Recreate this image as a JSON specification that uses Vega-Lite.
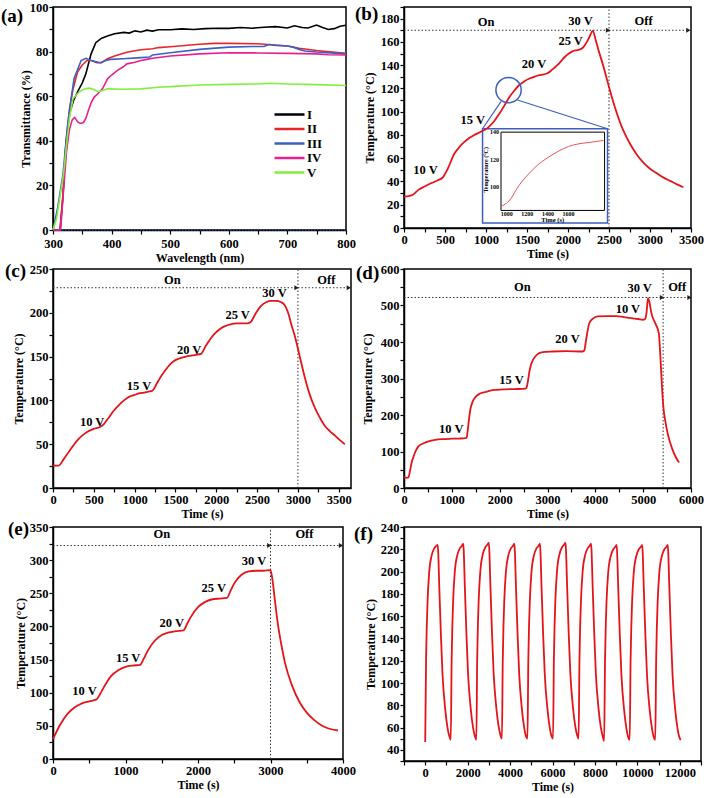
{
"$schema": "https://vega.github.io/schema/vega-lite/v6.json",
"background": "white",
"padding": {"left": 0, "top": 0, "right": 0, "bottom": 0},
"bounds": "flush",
"columns": 2,
"spacing": {"row": 39, "column": 53},
"datasets": {
"a": [
{"s":"I","x":300,"y":0},{"s":"I","x":312,"y":0},{"s":"I","x":317,"y":15},{"s":"I","x":322,"y":38},{"s":"I","x":328,"y":52},{"s":"I","x":335,"y":58},{"s":"I","x":342,"y":62},{"s":"I","x":350,"y":66},{"s":"I","x":356,"y":70},{"s":"I","x":365,"y":79},{"s":"I","x":373,"y":84},{"s":"I","x":383,"y":86},{"s":"I","x":393,"y":87},{"s":"I","x":405,"y":88},{"s":"I","x":421,"y":88.6},{"s":"I","x":430,"y":88.3},{"s":"I","x":440,"y":89.3},{"s":"I","x":450,"y":88.8},{"s":"I","x":460,"y":89.6},{"s":"I","x":470,"y":89.2},{"s":"I","x":480,"y":89.8},{"s":"I","x":500,"y":89.8},{"s":"I","x":520,"y":90.2},{"s":"I","x":540,"y":89.9},{"s":"I","x":560,"y":90.3},{"s":"I","x":580,"y":90.5},{"s":"I","x":600,"y":90.4},{"s":"I","x":620,"y":90.8},{"s":"I","x":640,"y":90.5},{"s":"I","x":660,"y":90.9},{"s":"I","x":680,"y":91.2},{"s":"I","x":700,"y":90.6},{"s":"I","x":712,"y":91.6},{"s":"I","x":725,"y":90.8},{"s":"I","x":735,"y":90.6},{"s":"I","x":750,"y":91.9},{"s":"I","x":760,"y":90.8},{"s":"I","x":770,"y":89.9},{"s":"I","x":780,"y":90.3},{"s":"I","x":790,"y":91.4},{"s":"I","x":800,"y":91.8},
{"s":"II","x":300,"y":0},{"s":"II","x":312,"y":0},{"s":"II","x":317,"y":16},{"s":"II","x":322,"y":39},{"s":"II","x":328,"y":54},{"s":"II","x":334,"y":63},{"s":"II","x":342,"y":71},{"s":"II","x":350,"y":74},{"s":"II","x":358,"y":76},{"s":"II","x":366,"y":76},{"s":"II","x":375,"y":75},{"s":"II","x":383,"y":75},{"s":"II","x":393,"y":76.8},{"s":"II","x":405,"y":78},{"s":"II","x":426,"y":79.7},{"s":"II","x":450,"y":80.8},{"s":"II","x":470,"y":81.3},{"s":"II","x":480,"y":81.8},{"s":"II","x":500,"y":82.2},{"s":"II","x":550,"y":83.3},{"s":"II","x":575,"y":83.7},{"s":"II","x":600,"y":83.7},{"s":"II","x":650,"y":83.5},{"s":"II","x":700,"y":82.5},{"s":"II","x":720,"y":81.5},{"s":"II","x":750,"y":80.5},{"s":"II","x":800,"y":79.2},
{"s":"III","x":300,"y":0},{"s":"III","x":308,"y":10},{"s":"III","x":317,"y":25},{"s":"III","x":325,"y":47},{"s":"III","x":331,"y":59},{"s":"III","x":336,"y":68},{"s":"III","x":342,"y":72},{"s":"III","x":348,"y":76},{"s":"III","x":356,"y":77},{"s":"III","x":365,"y":76},{"s":"III","x":372,"y":75.5},{"s":"III","x":381,"y":75},{"s":"III","x":390,"y":76},{"s":"III","x":398,"y":76.5},{"s":"III","x":420,"y":76.8},{"s":"III","x":450,"y":77.3},{"s":"III","x":465,"y":77.6},{"s":"III","x":470,"y":78.5},{"s":"III","x":500,"y":79.5},{"s":"III","x":550,"y":81},{"s":"III","x":600,"y":82},{"s":"III","x":640,"y":82.3},{"s":"III","x":660,"y":82.3},{"s":"III","x":665,"y":82.8},{"s":"III","x":670,"y":83.2},{"s":"III","x":680,"y":82.8},{"s":"III","x":700,"y":82.5},{"s":"III","x":710,"y":82},{"s":"III","x":720,"y":81},{"s":"III","x":730,"y":80.3},{"s":"III","x":750,"y":79.8},{"s":"III","x":780,"y":79.3},{"s":"III","x":800,"y":79},
{"s":"IV","x":300,"y":0},{"s":"IV","x":313,"y":0},{"s":"IV","x":318,"y":18},{"s":"IV","x":323,"y":35},{"s":"IV","x":328,"y":45},{"s":"IV","x":333,"y":49.5},{"s":"IV","x":337,"y":50.5},{"s":"IV","x":342,"y":48.5},{"s":"IV","x":347,"y":47.8},{"s":"IV","x":352,"y":48.2},{"s":"IV","x":356,"y":50},{"s":"IV","x":361,"y":54},{"s":"IV","x":365,"y":57},{"s":"IV","x":370,"y":59.5},{"s":"IV","x":376,"y":61},{"s":"IV","x":385,"y":63.5},{"s":"IV","x":393,"y":67.8},{"s":"IV","x":400,"y":69.5},{"s":"IV","x":410,"y":71.6},{"s":"IV","x":420,"y":73.2},{"s":"IV","x":426,"y":74.5},{"s":"IV","x":440,"y":75.2},{"s":"IV","x":450,"y":76},{"s":"IV","x":460,"y":76.5},{"s":"IV","x":470,"y":77},{"s":"IV","x":500,"y":78},{"s":"IV","x":550,"y":79},{"s":"IV","x":600,"y":79.5},{"s":"IV","x":650,"y":79.4},{"s":"IV","x":700,"y":79.2},{"s":"IV","x":750,"y":79},{"s":"IV","x":770,"y":78.6},{"s":"IV","x":800,"y":78.5},
{"s":"V","x":300,"y":0},{"s":"V","x":306,"y":5},{"s":"V","x":312,"y":15},{"s":"V","x":318,"y":25},{"s":"V","x":323,"y":38},{"s":"V","x":328,"y":50},{"s":"V","x":334,"y":58.7},{"s":"V","x":341,"y":61},{"s":"V","x":348,"y":62.5},{"s":"V","x":355,"y":63.3},{"s":"V","x":362,"y":63.6},{"s":"V","x":370,"y":63},{"s":"V","x":376,"y":62},{"s":"V","x":385,"y":62.6},{"s":"V","x":393,"y":63.3},{"s":"V","x":420,"y":63.1},{"s":"V","x":450,"y":63.3},{"s":"V","x":480,"y":64},{"s":"V","x":500,"y":64.3},{"s":"V","x":550,"y":65},{"s":"V","x":600,"y":65.3},{"s":"V","x":650,"y":65.5},{"s":"V","x":670,"y":65.8},{"s":"V","x":700,"y":65.5},{"s":"V","x":750,"y":65.2},{"s":"V","x":800,"y":64.8}
],
"a_zero": [{"x":300,"x2":800,"y":0}],
"b_main": [{"x":0,"y":27},{"x":60,"y":27.5},{"x":109,"y":28.6},{"x":180,"y":33},{"x":251,"y":35.7},{"x":330,"y":38.5},{"x":413,"y":41},{"x":474,"y":43.5},{"x":534,"y":51},{"x":615,"y":64},{"x":680,"y":70},{"x":737,"y":74},{"x":800,"y":77.5},{"x":858,"y":80},{"x":930,"y":82.5},{"x":1000,"y":85},{"x":1050,"y":88},{"x":1101,"y":92},{"x":1160,"y":98},{"x":1222,"y":105},{"x":1280,"y":112},{"x":1344,"y":118},{"x":1400,"y":122.5},{"x":1465,"y":126},{"x":1530,"y":128.5},{"x":1586,"y":130},{"x":1660,"y":131.5},{"x":1748,"y":133},{"x":1790,"y":135},{"x":1829,"y":137.5},{"x":1870,"y":140},{"x":1910,"y":143},{"x":1960,"y":147},{"x":2011,"y":150},{"x":2060,"y":152},{"x":2113,"y":153},{"x":2160,"y":154},{"x":2193,"y":156},{"x":2230,"y":160},{"x":2260,"y":164},{"x":2303,"y":169.5},{"x":2340,"y":161},{"x":2376,"y":152},{"x":2440,"y":137},{"x":2501,"y":121},{"x":2558,"y":107},{"x":2639,"y":90},{"x":2700,"y":80},{"x":2760,"y":72},{"x":2840,"y":63},{"x":2922,"y":56},{"x":3000,"y":51},{"x":3084,"y":47},{"x":3160,"y":43.5},{"x":3246,"y":40.5},{"x":3330,"y":37.5},{"x":3407,"y":35}],
"b_text": [{"x":1000,"y":177,"t":"On"},{"x":2153,"y":178,"t":"30 V"},{"x":2922,"y":178,"t":"Off"},{"x":2032,"y":161,"t":"25 V"},{"x":1586,"y":141,"t":"20 V"},{"x":838,"y":93,"t":"15 V"},{"x":263,"y":50,"t":"10 V"}],
"b_h": [{"x":0,"x2":2500,"y":170},{"x":2500,"x2":3480,"y":170}],
"b_v": [{"x":2500,"y":0,"y2":190}],
"b_arrow": [{"x":2488,"y":170},{"x":3468,"y":170}],
"b_box": [{"x":958,"x2":2482,"y":4.3,"y2":85.3}],
"b_inner": [{"x":1183,"x2":2446,"y":15.1,"y2":82.4}],
"b_inset": [{"x":1189,"y":18.6},{"x":1309,"y":25.7},{"x":1378,"y":34.0},{"x":1511,"y":45.8},{"x":1629,"y":54.1},{"x":1755,"y":60.6},{"x":1880,"y":65.9},{"x":2006,"y":70.1},{"x":2132,"y":72.4},{"x":2257,"y":73.5},{"x":2433,"y":75.3}],
"b_link": [{"x":1182,"y":108.6,"x2":958,"y2":85.3},{"x":1384,"y":110,"x2":2482,"y2":85.3}],
"b_circle": [{"x":1275,"y":118.6}],
"b_iy": [{"x":1183,"y":35.2,"t":"100"},{"x":1183,"y":58.8,"t":"120"},{"x":1183,"y":82.4,"t":"140"}],
"b_ix": [{"x":1252,"y":15.1,"t":"1000"},{"x":1503,"y":15.1,"t":"1200"},{"x":1755,"y":15.1,"t":"1400"},{"x":2006,"y":15.1,"t":"1600"}],
"b_ixt": [{"x":1814,"y":7,"t":"Time (s)"}],
"b_iyt": [{"x":1000,"y":50,"t":"Temperature (°C)"}],
"c_main": [{"x":0,"y":25.6},{"x":70,"y":25.6},{"x":131,"y":33},{"x":200,"y":42},{"x":295,"y":54},{"x":360,"y":60},{"x":418,"y":64},{"x":500,"y":67.5},{"x":582,"y":70},{"x":623,"y":73},{"x":680,"y":80},{"x":746,"y":88.5},{"x":810,"y":95},{"x":869,"y":100},{"x":930,"y":104},{"x":992,"y":106},{"x":1050,"y":108},{"x":1115,"y":109},{"x":1170,"y":110},{"x":1217,"y":111},{"x":1270,"y":119},{"x":1320,"y":127},{"x":1380,"y":135},{"x":1443,"y":142},{"x":1500,"y":146},{"x":1566,"y":148.5},{"x":1630,"y":150},{"x":1689,"y":151},{"x":1750,"y":152},{"x":1811,"y":153},{"x":1870,"y":162},{"x":1934,"y":171},{"x":1990,"y":177},{"x":2037,"y":181},{"x":2100,"y":184.5},{"x":2160,"y":186.6},{"x":2262,"y":188},{"x":2385,"y":188},{"x":2426,"y":190},{"x":2480,"y":199},{"x":2549,"y":208},{"x":2610,"y":212},{"x":2672,"y":213.5},{"x":2730,"y":213.5},{"x":2795,"y":212},{"x":2836,"y":209},{"x":2880,"y":200},{"x":2918,"y":187},{"x":2960,"y":174},{"x":3000,"y":159},{"x":3040,"y":143},{"x":3082,"y":127},{"x":3140,"y":108},{"x":3205,"y":92},{"x":3270,"y":80},{"x":3328,"y":71},{"x":3390,"y":65},{"x":3451,"y":60},{"x":3510,"y":55},{"x":3574,"y":50}],
"c_text": [{"x":1463,"y":237,"t":"On"},{"x":3348,"y":237,"t":"Off"},{"x":2713,"y":223,"t":"30 V"},{"x":2262,"y":198,"t":"25 V"},{"x":1668,"y":158,"t":"20 V"},{"x":1053,"y":117,"t":"15 V"},{"x":480,"y":75,"t":"10 V"}],
"c_h": [{"x":0,"x2":3000,"y":228.6},{"x":3000,"x2":3640,"y":228.6}],
"c_v": [{"x":3000,"y":0,"y2":250}],
"c_arrow": [{"x":2983,"y":228.6},{"x":3623,"y":228.6}],
"d_main": [{"x":0,"y":30},{"x":60,"y":28},{"x":91,"y":29},{"x":130,"y":50},{"x":160,"y":70},{"x":196,"y":85},{"x":250,"y":103},{"x":301,"y":114},{"x":400,"y":122},{"x":512,"y":128},{"x":650,"y":132},{"x":792,"y":134},{"x":1000,"y":135},{"x":1150,"y":135.5},{"x":1282,"y":136.5},{"x":1310,"y":138},{"x":1330,"y":155},{"x":1360,"y":190},{"x":1387,"y":215},{"x":1430,"y":235},{"x":1493,"y":249},{"x":1580,"y":258},{"x":1703,"y":263},{"x":1850,"y":268},{"x":2053,"y":270},{"x":2300,"y":271},{"x":2544,"y":272},{"x":2565,"y":276},{"x":2590,"y":292},{"x":2620,"y":318},{"x":2649,"y":335},{"x":2700,"y":352},{"x":2789,"y":366},{"x":2900,"y":372},{"x":3104,"y":374},{"x":3400,"y":375},{"x":3735,"y":374},{"x":3770,"y":377},{"x":3800,"y":400},{"x":3840,"y":432},{"x":3875,"y":452},{"x":3950,"y":464},{"x":4050,"y":470},{"x":4250,"y":471},{"x":4436,"y":471},{"x":4600,"y":468},{"x":4716,"y":466},{"x":4900,"y":463},{"x":4996,"y":461},{"x":5040,"y":463},{"x":5070,"y":480},{"x":5101,"y":520},{"x":5130,"y":510},{"x":5172,"y":479},{"x":5250,"y":452},{"x":5326,"y":425},{"x":5360,"y":360},{"x":5390,"y":285},{"x":5420,"y":225},{"x":5460,"y":185},{"x":5520,"y":145},{"x":5600,"y":110},{"x":5680,"y":85},{"x":5750,"y":70}],
"d_text": [{"x":2474,"y":552,"t":"On"},{"x":4926,"y":548,"t":"30 V"},{"x":5711,"y":552,"t":"Off"},{"x":4681,"y":490,"t":"10 V"},{"x":3420,"y":408,"t":"20 V"},{"x":2249,"y":297,"t":"15 V"},{"x":988,"y":162,"t":"10 V"}],
"d_h": [{"x":0,"x2":5417,"y":522},{"x":5417,"x2":5990,"y":522}],
"d_v": [{"x":5417,"y":0,"y2":600}],
"d_arrow": [{"x":5395,"y":522},{"x":5968,"y":522}],
"e_main": [{"x":0,"y":30},{"x":100,"y":52},{"x":200,"y":68},{"x":300,"y":78},{"x":400,"y":84},{"x":500,"y":87},{"x":600,"y":90},{"x":650,"y":98},{"x":700,"y":108},{"x":800,"y":125},{"x":900,"y":134},{"x":1000,"y":139},{"x":1100,"y":141},{"x":1200,"y":142},{"x":1250,"y":151},{"x":1300,"y":162},{"x":1400,"y":178},{"x":1500,"y":187},{"x":1600,"y":191},{"x":1700,"y":193},{"x":1800,"y":194},{"x":1850,"y":204},{"x":1900,"y":214},{"x":2000,"y":229},{"x":2100,"y":237},{"x":2200,"y":241},{"x":2300,"y":242},{"x":2400,"y":243},{"x":2450,"y":254},{"x":2500,"y":265},{"x":2600,"y":278},{"x":2700,"y":283},{"x":2800,"y":284},{"x":2900,"y":284},{"x":3000,"y":285},{"x":3030,"y":268},{"x":3060,"y":240},{"x":3100,"y":205},{"x":3150,"y":172},{"x":3200,"y":145},{"x":3300,"y":110},{"x":3400,"y":86},{"x":3500,"y":70},{"x":3600,"y":59},{"x":3700,"y":51},{"x":3800,"y":46},{"x":3930,"y":43}],
"e_text": [{"x":1500,"y":339,"t":"On"},{"x":3468,"y":339,"t":"Off"},{"x":2773,"y":298,"t":"30 V"},{"x":2218,"y":258,"t":"25 V"},{"x":1639,"y":205,"t":"20 V"},{"x":1037,"y":153,"t":"15 V"},{"x":435,"y":102,"t":"10 V"}],
"e_h": [{"x":0,"x2":3000,"y":322},{"x":3000,"x2":3990,"y":322}],
"e_v": [{"x":3000,"y":0,"y2":350}],
"e_arrow": [{"x":2983,"y":322},{"x":3973,"y":322}],
"f_main": [
{"x":0,"y":47},{"x":40,"y":120},{"x":75,"y":152},{"x":110,"y":173},{"x":190,"y":200},{"x":310,"y":215},{"x":430,"y":221},{"x":520,"y":223},{"x":590,"y":224},{"x":620,"y":214},{"x":660,"y":188},{"x":740,"y":143},{"x":815,"y":108},{"x":940,"y":77},{"x":1050,"y":60},{"x":1140,"y":52},
{"x":1205,"y":49},{"x":1245,"y":120},{"x":1280,"y":152},{"x":1315,"y":173},{"x":1395,"y":200},{"x":1515,"y":215},{"x":1635,"y":221},{"x":1725,"y":223},{"x":1795,"y":225},{"x":1825,"y":214},{"x":1865,"y":188},{"x":1945,"y":143},{"x":2020,"y":108},{"x":2145,"y":77},{"x":2255,"y":60},{"x":2345,"y":52},
{"x":2410,"y":49},{"x":2450,"y":121},{"x":2485,"y":153},{"x":2520,"y":174},{"x":2600,"y":201},{"x":2720,"y":216},{"x":2840,"y":222},{"x":2930,"y":224},{"x":3000,"y":226},{"x":3030,"y":215},{"x":3070,"y":189},{"x":3150,"y":144},{"x":3225,"y":109},{"x":3350,"y":78},{"x":3460,"y":61},{"x":3550,"y":53},
{"x":3615,"y":50},{"x":3655,"y":120},{"x":3690,"y":152},{"x":3725,"y":173},{"x":3805,"y":200},{"x":3925,"y":215},{"x":4045,"y":221},{"x":4135,"y":223},{"x":4205,"y":225},{"x":4235,"y":214},{"x":4275,"y":188},{"x":4355,"y":143},{"x":4430,"y":108},{"x":4555,"y":77},{"x":4665,"y":60},{"x":4755,"y":52},
{"x":4820,"y":50},{"x":4860,"y":120},{"x":4895,"y":152},{"x":4930,"y":173},{"x":5010,"y":200},{"x":5130,"y":215},{"x":5250,"y":221},{"x":5340,"y":223},{"x":5410,"y":225},{"x":5440,"y":214},{"x":5480,"y":188},{"x":5560,"y":143},{"x":5635,"y":108},{"x":5760,"y":77},{"x":5870,"y":60},{"x":5960,"y":52},
{"x":6025,"y":50},{"x":6065,"y":121},{"x":6100,"y":153},{"x":6135,"y":174},{"x":6215,"y":201},{"x":6335,"y":216},{"x":6455,"y":222},{"x":6545,"y":224},{"x":6615,"y":226},{"x":6645,"y":215},{"x":6685,"y":189},{"x":6765,"y":144},{"x":6840,"y":109},{"x":6965,"y":78},{"x":7075,"y":61},{"x":7165,"y":53},
{"x":7230,"y":50},{"x":7270,"y":120},{"x":7305,"y":152},{"x":7340,"y":173},{"x":7420,"y":200},{"x":7540,"y":215},{"x":7660,"y":221},{"x":7750,"y":223},{"x":7820,"y":225},{"x":7850,"y":214},{"x":7890,"y":188},{"x":7970,"y":143},{"x":8045,"y":108},{"x":8170,"y":77},{"x":8280,"y":60},{"x":8370,"y":52},
{"x":8435,"y":48},{"x":8475,"y":119},{"x":8510,"y":151},{"x":8545,"y":172},{"x":8625,"y":199},{"x":8745,"y":214},{"x":8865,"y":220},{"x":8955,"y":222},{"x":9025,"y":224},{"x":9055,"y":213},{"x":9095,"y":187},{"x":9175,"y":142},{"x":9250,"y":107},{"x":9375,"y":76},{"x":9485,"y":59},{"x":9575,"y":51},
{"x":9640,"y":49},{"x":9680,"y":119},{"x":9715,"y":151},{"x":9750,"y":172},{"x":9830,"y":199},{"x":9950,"y":214},{"x":10070,"y":220},{"x":10160,"y":222},{"x":10230,"y":224},{"x":10260,"y":213},{"x":10300,"y":187},{"x":10380,"y":142},{"x":10455,"y":107},{"x":10580,"y":76},{"x":10690,"y":59},{"x":10780,"y":51},
{"x":10845,"y":49},{"x":10885,"y":119},{"x":10920,"y":151},{"x":10955,"y":172},{"x":11035,"y":199},{"x":11155,"y":214},{"x":11275,"y":220},{"x":11365,"y":222},{"x":11435,"y":224},{"x":11465,"y":213},{"x":11505,"y":187},{"x":11585,"y":142},{"x":11660,"y":107},{"x":11785,"y":76},{"x":11895,"y":59},{"x":11985,"y":51},
{"x":12050,"y":49}
]
},
"concat": [
{
"width": 293, "height": 223,
"title": {"text": "(a)", "dx": -52, "offset": -25},
"encoding": {
"x": {"field":"x","type":"quantitative","scale":{"domain":[300,800],"nice":false,"zero":false},"axis":{"title":"Wavelength (nm)","values":[300,350,400,450,500,550,600,650,700,750,800],"format":"d","labelPadding":3,"labelExpr":"datum.value % 100 === 0 ? datum.label : ''"}},
"y": {"field":"y","type":"quantitative","scale":{"domain":[0,100],"nice":false},"axis":{"title":"Transmittance (%)","values":[0,10,20,30,40,50,60,70,80,90,100],"format":"d","labelExpr":"datum.value % 20 === 0 ? datum.label : ''","titlePadding":-3}}
},
"layer": [
{"data": {"name": "a"},
"mark": {"type": "line", "strokeWidth": 1.6},
"encoding": {
"color": {"field":"s","type":"nominal","scale":{"domain":["I","II","III","IV","V"],"range":["#000000","#e8262a","#3c5fc4","#e6218f","#84ee3c"]},"legend":{"title":null,"orient":"none","legendX":230,"legendY":101,"symbolType":"M-3,0H3","symbolSize":100,"symbolStrokeWidth":2.5,"labelOffset":11,"rowPadding":0.5,"padding":0,"labelFontSize":13,"labelFontWeight":"bold","labelFont":"Liberation Serif","labelColor":"black"}}
}},
{"data": {"name": "a_zero"}, "mark": {"type":"rule","color":"#3c5fc4","strokeDash":[1.5,1.5],"strokeWidth":1.2}, "encoding": {"x2":{"field":"x2"}}}
]
},
{
"width": 287, "height": 221,
"title": {"text": "(b)", "dx": -49, "offset": -23},
"encoding": {
"x": {"field":"x","type":"quantitative","scale":{"domain":[0,3500],"nice":false,"zero":false},"axis":{"title":"Time (s)","values":[0,250,500,750,1000,1250,1500,1750,2000,2250,2500,2750,3000,3250,3500],"format":"d","labelExpr":"datum.value % 500 === 0 ? datum.label : ''"}},
"y": {"field":"y","type":"quantitative","scale":{"domain":[0,190],"nice":false,"zero":false},"axis":{"title":"Temperature (°C)","values":[0,10,20,30,40,50,60,70,80,90,100,110,120,130,140,150,160,170,180,190],"format":"d","labelExpr":"datum.value % 20 === 0 ? datum.label : ''","titlePadding":4}}
},
"layer": [
{"data":{"name":"b_h"},"mark":{"type":"rule","strokeDash":[1.5,2],"color":"#333","strokeWidth":1},"encoding":{"x2":{"field":"x2"}}},
{"data":{"name":"b_v"},"mark":{"type":"rule","strokeDash":[1.5,2],"color":"#333","strokeWidth":1},"encoding":{"y2":{"field":"y2"}}},
{"data":{"name":"b_arrow"},"mark":{"type":"point","shape":"triangle-right","filled":true,"color":"#222","size":25,"opacity":1}},
{"data":{"name":"b_box"},"mark":{"type":"rect","fill":"white","stroke":"#3d5ec0","strokeWidth":1.5},"encoding":{"x2":{"field":"x2"},"y2":{"field":"y2"}}},
{"data":{"name":"b_inner"},"mark":{"type":"rect","fill":"white","stroke":"black","strokeWidth":1},"encoding":{"x2":{"field":"x2"},"y2":{"field":"y2"}}},
{"data":{"name":"b_inset"},"mark":{"type":"line","color":"#e8545a","strokeWidth":1,"interpolate":"monotone"}},
{"data":{"name":"b_iy"},"mark":{"type":"text","align":"right","dx":-2,"fontSize":6,"fontWeight":"bold","font":"Liberation Serif"},"encoding":{"text":{"field":"t"}}},
{"data":{"name":"b_ix"},"mark":{"type":"text","align":"center","baseline":"top","dy":1,"fontSize":6,"fontWeight":"bold","font":"Liberation Serif"},"encoding":{"text":{"field":"t"}}},
{"data":{"name":"b_ixt"},"mark":{"type":"text","align":"center","fontSize":6.5,"fontWeight":"bold","font":"Liberation Serif"},"encoding":{"text":{"field":"t"}}},
{"data":{"name":"b_iyt"},"mark":{"type":"text","align":"center","angle":270,"fontSize":6,"fontWeight":"bold","font":"Liberation Serif"},"encoding":{"text":{"field":"t"}}},
{"data":{"name":"b_link"},"mark":{"type":"rule","color":"#3d5ec0","strokeWidth":1.2},"encoding":{"x2":{"field":"x2"},"y2":{"field":"y2"}}},
{"data":{"name":"b_main"},"mark":{"type":"line","color":"#e3151b","strokeWidth":1.8,"interpolate":"monotone"}},
{"data":{"name":"b_circle"},"mark":{"type":"point","shape":"circle","filled":false,"color":"#3d5ec0","strokeWidth":1.5,"size":640,"opacity":1}},
{"data":{"name":"b_text"},"mark":{"type":"text","fontWeight":"bold","fontSize":12.5,"font":"Liberation Serif"},"encoding":{"text":{"field":"t"}}}
]
},
{
"width": 298, "height": 219,
"title": {"text": "(c)", "dx": -48, "offset": -18},
"encoding": {
"x": {"field":"x","type":"quantitative","scale":{"domain":[0,3650],"nice":false,"zero":false},"axis":{"title":"Time (s)","values":[0,250,500,750,1000,1250,1500,1750,2000,2250,2500,2750,3000,3250,3500],"format":"d","labelExpr":"datum.value % 500 === 0 ? datum.label : ''"}},
"y": {"field":"y","type":"quantitative","scale":{"domain":[0,250],"nice":false,"zero":false},"axis":{"title":"Temperature (°C)","values":[0,25,50,75,100,125,150,175,200,225,250],"format":"d","labelExpr":"datum.value % 50 === 0 ? datum.label : ''","titlePadding":4}}
},
"layer": [
{"data":{"name":"c_h"},"mark":{"type":"rule","strokeDash":[1.5,2],"color":"#333","strokeWidth":1},"encoding":{"x2":{"field":"x2"}}},
{"data":{"name":"c_v"},"mark":{"type":"rule","strokeDash":[1.5,2],"color":"#333","strokeWidth":1},"encoding":{"y2":{"field":"y2"}}},
{"data":{"name":"c_arrow"},"mark":{"type":"point","shape":"triangle-right","filled":true,"color":"#222","size":25,"opacity":1}},
{"data":{"name":"c_main"},"mark":{"type":"line","color":"#e3151b","strokeWidth":1.8,"interpolate":"monotone"}},
{"data":{"name":"c_text"},"mark":{"type":"text","fontWeight":"bold","fontSize":12.5,"font":"Liberation Serif"},"encoding":{"text":{"field":"t"}}}
]
},
{
"width": 287, "height": 219,
"title": {"text": "(d)", "dx": -48, "offset": -20},
"encoding": {
"x": {"field":"x","type":"quantitative","scale":{"domain":[0,6000],"nice":false,"zero":false},"axis":{"title":"Time (s)","values":[0,500,1000,1500,2000,2500,3000,3500,4000,4500,5000,5500,6000],"format":"d","labelExpr":"datum.value % 1000 === 0 ? datum.label : ''"}},
"y": {"field":"y","type":"quantitative","scale":{"domain":[0,600],"nice":false,"zero":false},"axis":{"title":"Temperature (°C)","values":[0,50,100,150,200,250,300,350,400,450,500,550,600],"format":"d","labelExpr":"datum.value % 100 === 0 ? datum.label : ''","titlePadding":6}}
},
"layer": [
{"data":{"name":"d_h"},"mark":{"type":"rule","strokeDash":[1.5,2],"color":"#333","strokeWidth":1},"encoding":{"x2":{"field":"x2"}}},
{"data":{"name":"d_v"},"mark":{"type":"rule","strokeDash":[1.5,2],"color":"#333","strokeWidth":1},"encoding":{"y2":{"field":"y2"}}},
{"data":{"name":"d_arrow"},"mark":{"type":"point","shape":"triangle-right","filled":true,"color":"#222","size":25,"opacity":1}},
{"data":{"name":"d_main"},"mark":{"type":"line","color":"#e3151b","strokeWidth":1.8,"interpolate":"monotone"}},
{"data":{"name":"d_text"},"mark":{"type":"text","fontWeight":"bold","fontSize":12.5,"font":"Liberation Serif"},"encoding":{"text":{"field":"t"}}}
]
},
{
"width": 290, "height": 232,
"title": {"text": "(e)", "dx": -45, "offset": -18},
"encoding": {
"x": {"field":"x","type":"quantitative","scale":{"domain":[0,4000],"nice":false,"zero":false},"axis":{"title":"Time (s)","values":[0,500,1000,1500,2000,2500,3000,3500,4000],"format":"d","labelExpr":"datum.value % 1000 === 0 ? datum.label : ''"}},
"y": {"field":"y","type":"quantitative","scale":{"domain":[0,350],"nice":false,"zero":false},"axis":{"title":"Temperature (°C)","values":[0,25,50,75,100,125,150,175,200,225,250,275,300,325,350],"format":"d","labelExpr":"datum.value % 50 === 0 ? datum.label : ''","titlePadding":2}}
},
"layer": [
{"data":{"name":"e_h"},"mark":{"type":"rule","strokeDash":[1.5,2],"color":"#333","strokeWidth":1},"encoding":{"x2":{"field":"x2"}}},
{"data":{"name":"e_v"},"mark":{"type":"rule","strokeDash":[1.5,2],"color":"#333","strokeWidth":1},"encoding":{"y2":{"field":"y2"}}},
{"data":{"name":"e_arrow"},"mark":{"type":"point","shape":"triangle-right","filled":true,"color":"#222","size":25,"opacity":1}},
{"data":{"name":"e_main"},"mark":{"type":"line","color":"#e3151b","strokeWidth":1.8,"interpolate":"monotone"}},
{"data":{"name":"e_text"},"mark":{"type":"text","fontWeight":"bold","fontSize":12.5,"font":"Liberation Serif"},"encoding":{"text":{"field":"t"}}}
]
},
{
"width": 297, "height": 234,
"title": {"text": "(f)", "dx": -50, "offset": -23},
"data": {"name": "f_main"},
"mark": {"type":"line","color":"#e3151b","strokeWidth":1.8,"interpolate":"monotone"},
"encoding": {
"x": {"field":"x","type":"quantitative","scale":{"domain":[-1000,13000],"nice":false,"zero":false},"axis":{"title":"Time (s)","values":[-1000,0,1000,2000,3000,4000,5000,6000,7000,8000,9000,10000,11000,12000,13000],"format":"d","labelExpr":"datum.value % 2000 === 0 && datum.value >= 0 && datum.value <= 12000 ? datum.label : ''"}},
"y": {"field":"y","type":"quantitative","scale":{"domain":[30,240],"nice":false,"zero":false},"axis":{"title":"Temperature (°C)","values":[30,40,50,60,70,80,90,100,110,120,130,140,150,160,170,180,190,200,210,220,230,240],"format":"d","labelExpr":"datum.value % 20 === 0 ? datum.label : ''","titlePadding":3}}
}
}
],
"config": {
"font": "Liberation Serif",
"view": {"stroke": "black", "strokeWidth": 1.5},
"axis": {"grid": false, "domainColor": "black", "domainWidth": 1.5, "tickColor": "black", "tickWidth": 1.2, "tickSize": 4, "labelFont": "Liberation Serif", "labelFontWeight": "bold", "labelFontSize": 12.5, "labelColor": "black", "labelPadding": 1, "labelFlush": false, "labelOverlap": false, "titleFont": "Liberation Serif", "titleFontWeight": "bold", "titleFontSize": 12, "titleColor": "black", "titlePadding": 3},
"title": {"font": "Liberation Serif", "fontSize": 19, "fontWeight": "bold", "anchor": "start", "frame": "group", "baseline": "alphabetic", "color": "black"}
}
}
